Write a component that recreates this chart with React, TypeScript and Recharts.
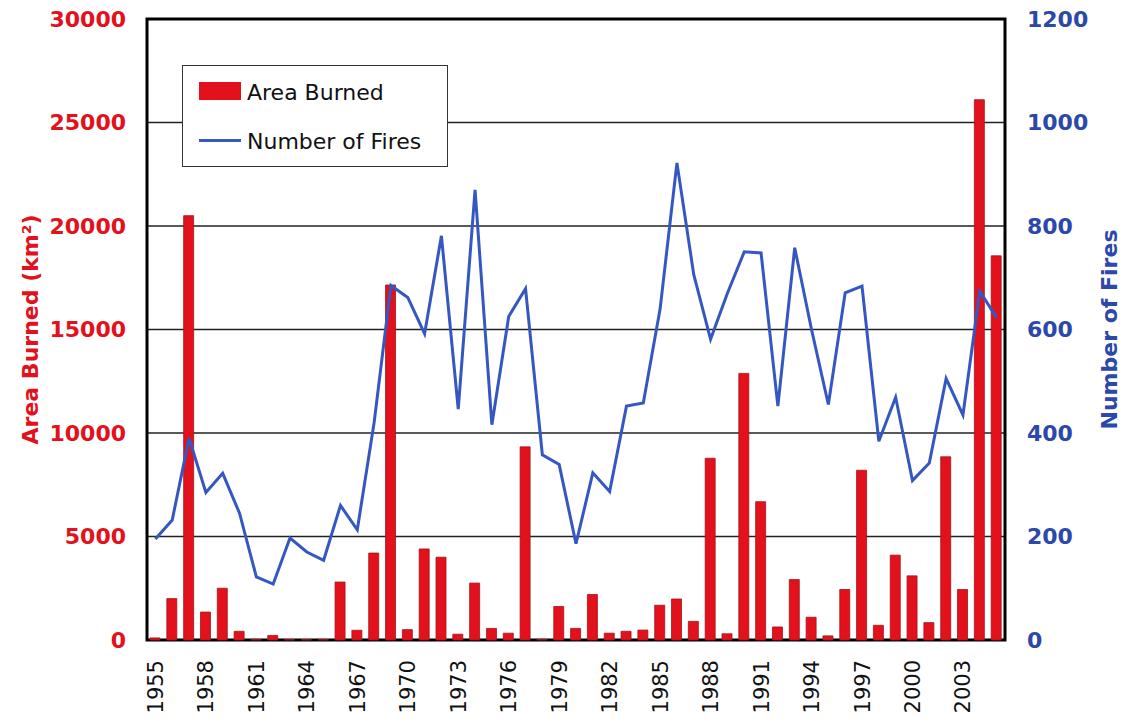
import {
  ComposedChart,
  Bar,
  Line,
  XAxis,
  YAxis,
  CartesianGrid,
  Legend,
  ReferenceArea,
} from 'recharts';

const YEARS = [
  '1955', '1956', '1957', '1958', '1959', '1960', '1961', '1962', '1963', '1964',
  '1965', '1966', '1967', '1968', '1969', '1970', '1971', '1972', '1973', '1974',
  '1975', '1976', '1977', '1978', '1979', '1980', '1981', '1982', '1983', '1984',
  '1985', '1986', '1987', '1988', '1989', '1990', '1991', '1992', '1993', '1994',
  '1995', '1996', '1997', '1998', '1999', '2000', '2001', '2002', '2003', '2004',
  '2005',
];

// km2
const AREA_BURNED = [
  100, 2000, 20500, 1350, 2500, 420, 30, 220, 20, 20,
  20, 2800, 470, 4200, 17150, 500, 4400, 4000, 280, 2750,
  560, 330, 9330, 30, 1620, 560, 2200, 330, 420, 480,
  1680, 1980, 900, 8780, 300, 12880, 6680, 630, 2920, 1100,
  200, 2440, 8200, 710, 4100, 3100, 840, 8850, 2440, 26100,
  18560,
];

const NUMBER_OF_FIRES = [
  195, 232, 390, 285, 322, 245, 122, 108, 197, 170,
  154, 260, 213, 420, 685, 662, 592, 781, 446, 870,
  416, 625, 679, 358, 339, 186, 323, 287, 452, 458,
  640, 922, 706, 581, 670, 750, 748, 452, 758, 600,
  455, 671, 684, 384, 469, 308, 342, 505, 435, 674,
  623,
];

const AREA_TICKS = [0, 5000, 10000, 15000, 20000, 25000, 30000];
const FIRE_TICKS = [0, 200, 400, 600, 800, 1000, 1200];

const data = YEARS.map((year, i) => ({
  year,
  area: AREA_BURNED[i],
  fires: NUMBER_OF_FIRES[i],
}));

const FONT = '"DejaVu Sans", Verdana, sans-serif';
const RED = '#e2111c';
const BLUE = '#2b48aa';
const LINE_BLUE = '#3557c2';

const YearTick = ({ x, y, payload }: any) => (
  <text
    x={x}
    y={y + 2}
    dy="0.36em"
    transform={`rotate(-90, ${x}, ${y + 2})`}
    textAnchor="end"
    fill="#111"
    fontSize={21}
    fontFamily={FONT}
  >
    {payload.value}
  </text>
);

const LegendBox = () => (
  <div
    style={{
      width: 264,
      height: 100,
      background: '#fff',
      border: '1.5px solid #333',
      fontFamily: FONT,
      fontSize: 22,
      color: '#111',
      position: 'relative',
    }}
  >
    <div style={{ position: 'absolute', left: 16, top: 16, width: 42, height: 18, background: RED }} />
    <div style={{ position: 'absolute', left: 64, top: 14, lineHeight: '26px' }}>Area Burned</div>
    <div style={{ position: 'absolute', left: 16, top: 73, width: 42, height: 3, background: LINE_BLUE }} />
    <div style={{ position: 'absolute', left: 64, top: 63, lineHeight: '26px' }}>Number of Fires</div>
  </div>
);

export default function App() {
  return (
    <div style={{ position: 'absolute', left: 0, top: 0, background: '#fff' }}>
      <ComposedChart
        width={1129}
        height={724}
        data={data}
        margin={{ top: 19, right: 0, bottom: 0, left: 0 }}
      >
        <CartesianGrid yAxisId="left" vertical={false} stroke="#222" strokeWidth={1.3} />
        <XAxis
          dataKey="year"
          interval={2}
          height={84}
          tickLine={false}
          axisLine={false}
          tickSize={6}
          tickMargin={12}
          tick={<YearTick />}
        />
        <YAxis
          yAxisId="left"
          width={147}
          domain={[0, 30000]}
          ticks={AREA_TICKS}
          tickLine={false}
          axisLine={false}
          tickMargin={15}
          tick={{ fill: RED, fontSize: 22, fontWeight: 700, fontFamily: FONT }}
          label={{
            content: ({ viewBox }: any) => {
              const cx = 30;
              const cy = viewBox.y + viewBox.height / 2;
              return (
                <text
                  x={cx}
                  y={cy}
                  transform={`rotate(-90, ${cx}, ${cy})`}
                  textAnchor="middle"
                  dominantBaseline="central"
                  fill={RED}
                  fontSize={22}
                  fontWeight={700}
                  fontFamily={FONT}
                >
                  Area Burned (km²)
                </text>
              );
            },
          }}
        />
        <YAxis
          yAxisId="right"
          orientation="right"
          width={124}
          domain={[0, 1200]}
          ticks={FIRE_TICKS}
          tickLine={false}
          axisLine={false}
          tickMargin={16}
          tick={{ fill: BLUE, fontSize: 22, fontWeight: 700, fontFamily: FONT }}
          label={{
            content: ({ viewBox }: any) => {
              const cx = 1109;
              const cy = viewBox.y + viewBox.height / 2;
              return (
                <text
                  x={cx}
                  y={cy}
                  transform={`rotate(-90, ${cx}, ${cy})`}
                  textAnchor="middle"
                  dominantBaseline="central"
                  fill={BLUE}
                  fontSize={22}
                  fontWeight={700}
                  fontFamily={FONT}
                >
                  Number of Fires
                </text>
              );
            },
          }}
        />
        <Legend
          layout="vertical"
          verticalAlign="middle"
          align="center"
          content={<LegendBox />}
          wrapperStyle={{ left: 182, top: 65, width: 267, height: 103 }}
        />
        <Bar
          yAxisId="left"
          dataKey="area"
          name="Area Burned"
          fill={RED}
          stroke="#a3141a"
          strokeWidth={0.8}
          barSize={10}
          isAnimationActive={false}
        />
        <Line
          yAxisId="right"
          dataKey="fires"
          name="Number of Fires"
          type="linear"
          stroke={LINE_BLUE}
          strokeWidth={3}
          dot={false}
          activeDot={false}
          isAnimationActive={false}
        />
        <ReferenceArea
          yAxisId="left"
          y1={0}
          y2={30000}
          fill="none"
          stroke="#000"
          strokeWidth={3}
          ifOverflow="visible"
        />
      </ComposedChart>
    </div>
  );
}
